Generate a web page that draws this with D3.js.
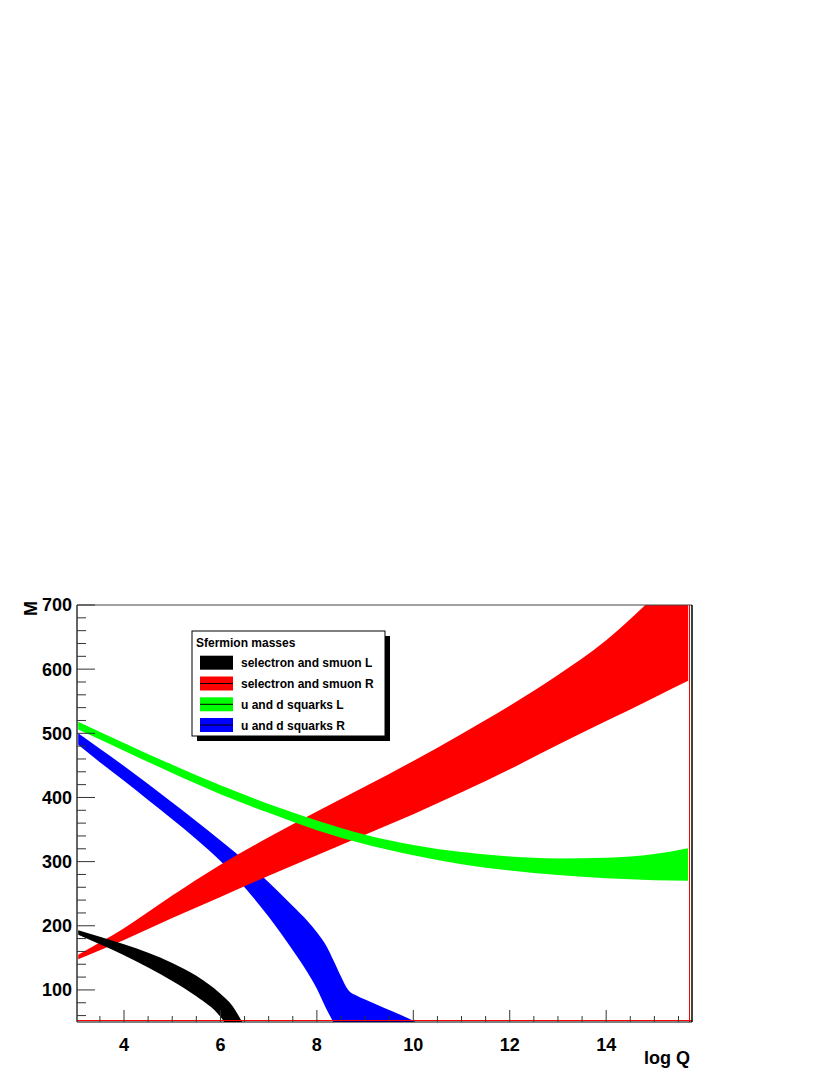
<!DOCTYPE html>
<html><head><meta charset="utf-8">
<script src="https://cdn.jsdelivr.net/npm/d3@7"></script>
<style>
body{margin:0;background:#fff}
svg{display:block}
text{font-family:"Liberation Sans",Arial,Helvetica,sans-serif;font-weight:bold;fill:#000}
</style>
</head><body><svg id="c" width="830" height="1075"></svg>
<script>
// ---- data (log Q, lower / upper mass edge of each band) ----
const xBlack  = [3.05, 3.5, 4, 4.5, 5, 5.5, 6, 6.25, 6.45];
const blackLo = [186, 171, 154, 135, 114, 90, 58, 30, 0];
const blackHi = [193, 183, 171, 158, 142, 122, 94, 75, 50];

const xRed  = [3.05, 4, 5, 6, 7, 8, 9, 10, 11, 12, 13, 14, 15, 15.7];
const redLo = [148, 178, 212, 245, 278, 310, 342, 374, 408, 444, 482, 519, 556, 582];
const redHi = [155, 196, 247, 295, 338, 378, 417, 457, 499, 543, 591, 645, 713, 760];

const xGreen  = [3.05, 4, 5, 6, 7, 8, 9, 10, 11, 12, 13, 14, 15, 15.7];
const greenLo = [506, 473, 438, 405, 376, 349, 327, 310, 296, 286, 279, 274, 271, 270];
const greenHi = [518, 485, 451, 419, 390, 364, 342, 326, 315, 308, 305, 306, 312, 321];

const xBlue  = [3.05, 3.5, 4, 4.5, 5, 5.5, 6, 6.5, 7, 7.5, 7.8, 8.0, 8.2, 8.35, 8.5, 8.65, 8.8, 9, 9.4, 9.8, 10.05];
const blueLo = [482, 455, 426, 396, 366, 335, 301, 260, 214, 162, 128, 102, 70, 48, 20, 0, -10, -20, -35, -40, -40];
const blueHi = [500, 476, 449, 421, 392, 363, 333, 302, 268, 231, 208, 190, 168, 145, 121, 100, 92, 85, 72, 59, 50];

const xMajorTicks = [4, 6, 8, 10, 12, 14];
const yMajorTicks = [100, 200, 300, 400, 500, 600, 700];

const legendTitle  = "Sfermion masses";
const legendLabels = ["selectron and smuon L", "selectron and smuon R", "u and d squarks L", "u and d squarks R"];
const legendColors = ["#000000", "#ff0000", "#00ff00", "#0000ff"];

const xTitle = "log Q";
const yTitle = "M";

// ---- layout ----
const L = 77, R = 692, T = 605, B = 1022;
const svg = d3.select("#c");
const x = d3.scaleLinear().domain([3.025, 15.78]).range([L, R]);
const y = d3.scaleLinear().domain([50, 700]).range([B, T]);

svg.append("defs").append("clipPath").attr("id", "clip")
  .append("rect").attr("x", L).attr("y", T).attr("width", R - L).attr("height", B - T);

const band = (xs, lo, hi) => d3.area()
  .x((d, i) => x(xs[i]))
  .y0((d, i) => y(lo[i]))
  .y1((d, i) => y(hi[i]))
  .curve(d3.curveMonotoneX)(xs);

const g = svg.append("g").attr("clip-path", "url(#clip)");
g.append("path").attr("d", band(xBlue, blueLo, blueHi)).attr("fill", legendColors[3]);
g.append("path").attr("d", band(xRed, redLo, redHi)).attr("fill", legendColors[1]);
g.append("path").attr("d", band(xBlack, blackLo, blackHi)).attr("fill", legendColors[0]);
g.append("path").attr("d", band(xGreen, greenLo, greenHi)).attr("fill", legendColors[2]);

// red outline lines along the bottom and right of the frame
svg.append("line").attr("x1", L).attr("x2", R).attr("y1", B - 1.5).attr("y2", B - 1.5)
  .attr("stroke", "#ff0000").attr("stroke-width", 1);
svg.append("line").attr("x1", R - 2.5).attr("x2", R - 2.5).attr("y1", T).attr("y2", B)
  .attr("stroke", "#ff0000").attr("stroke-width", 1);

// frame
svg.append("line").attr("x1", L).attr("x2", R).attr("y1", T).attr("y2", T).attr("stroke", "#444");
svg.append("line").attr("x1", R).attr("x2", R).attr("y1", T).attr("y2", B).attr("stroke", "#000").attr("stroke-width", 1.5);
svg.append("line").attr("x1", L).attr("x2", R).attr("y1", B).attr("y2", B).attr("stroke", "#000").attr("stroke-width", 1.2);
svg.append("line").attr("x1", L).attr("x2", L).attr("y1", T).attr("y2", B).attr("stroke", "#333").attr("stroke-width", 1.5);

// y ticks
const yMinor = d3.range(60, 701, 20).filter(v => v % 100 !== 0);
svg.append("g").selectAll("line").data(yMinor).join("line")
  .attr("x1", L).attr("x2", L + 9).attr("y1", d => y(d)).attr("y2", d => y(d))
  .attr("stroke", "#333").attr("stroke-width", 1);
svg.append("g").selectAll("line").data(yMajorTicks).join("line")
  .attr("x1", L).attr("x2", L + 18).attr("y1", d => y(d)).attr("y2", d => y(d))
  .attr("stroke", "#333").attr("stroke-width", 1);
svg.append("g").selectAll("text").data(yMajorTicks).join("text")
  .attr("x", 72).attr("y", d => y(d)).attr("dy", "0.36em")
  .attr("text-anchor", "end").attr("font-size", 18).text(d => d);

// x ticks
const xMinor = d3.range(3.5, 15.6, 0.5).filter(v => v % 2 !== 0);
svg.append("g").selectAll("line").data(xMinor).join("line")
  .attr("x1", d => x(d)).attr("x2", d => x(d)).attr("y1", B).attr("y2", B - 6)
  .attr("stroke", "#333").attr("stroke-width", 1);
svg.append("g").selectAll("line").data(xMajorTicks).join("line")
  .attr("x1", d => x(d)).attr("x2", d => x(d)).attr("y1", B).attr("y2", B - 12)
  .attr("stroke", "#333").attr("stroke-width", 1);
svg.append("g").selectAll("text").data(xMajorTicks).join("text")
  .attr("x", d => x(d)).attr("y", 1051)
  .attr("text-anchor", "middle").attr("font-size", 18).text(d => d);

// axis titles
svg.append("text").attr("x", 690).attr("y", 1064).attr("text-anchor", "end")
  .attr("font-size", 18).text(xTitle);
svg.append("text").attr("transform", "translate(37,601) rotate(-90)")
  .attr("text-anchor", "end").attr("font-size", 18).text(yTitle);

// legend
const lg = svg.append("g");
lg.append("rect").attr("x", 197).attr("y", 636).attr("width", 193).attr("height", 105).attr("fill", "#000");
lg.append("rect").attr("x", 192).attr("y", 631).attr("width", 193).attr("height", 105)
  .attr("fill", "#fff").attr("stroke", "#000").attr("stroke-width", 1);
lg.append("text").attr("x", 196).attr("y", 647).attr("font-size", 12).text(legendTitle);
const rowY = [662.7, 683.5, 704.3, 725];
legendLabels.forEach((lab, i) => {
  lg.append("rect").attr("x", 200).attr("y", rowY[i] - 7).attr("width", 33).attr("height", 14)
    .attr("fill", legendColors[i]);
  if (i > 0) lg.append("line").attr("x1", 200).attr("x2", 233).attr("y1", rowY[i]).attr("y2", rowY[i])
    .attr("stroke", "#000").attr("stroke-width", 1);
  lg.append("text").attr("x", 241).attr("y", rowY[i] + 4.5).attr("font-size", 12).text(lab);
});
</script>
</body></html>
